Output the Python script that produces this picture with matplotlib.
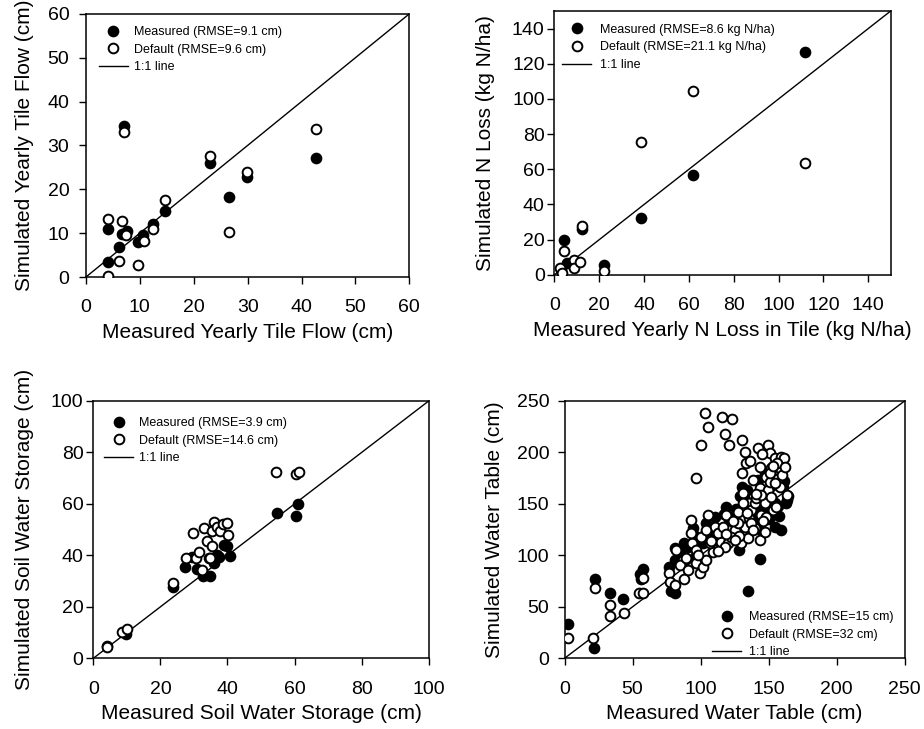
import matplotlib
matplotlib.use('Agg')
import matplotlib.pyplot as plt
from matplotlib.lines import Line2D

plt.rcParams['font.family'] = ['Liberation Sans', 'DejaVu Sans']

# --- tile flow (cm)
flow_meas_x = [4.1, 4.1, 6.1, 6.7, 7.1, 7.7, 9.7, 10.6, 12.4, 14.6, 23.0, 26.6, 29.9, 42.6]
flow_meas_y = [10.9, 3.4, 6.8, 9.8, 34.5, 10.6, 7.9, 9.6, 12.0, 15.0, 25.9, 18.2, 22.7, 27.2]
flow_def_x = [4.1, 4.1, 6.1, 6.7, 7.1, 7.5, 9.7, 10.8, 12.4, 14.6, 23.0, 26.6, 29.9, 42.6]
flow_def_y = [13.2, 0.3, 3.6, 12.7, 33.1, 9.6, 2.7, 8.3, 10.9, 17.6, 27.5, 10.3, 23.9, 33.7]

# --- N loss (kg N/ha)
n_meas_x = [4.3, 5.4, 3.0, 9.0, 12.1, 22.0, 38.4, 61.8, 111.6]
n_meas_y = [19.6, 7.0, 3.5, 7.5, 26.0, 5.8, 32.3, 56.8, 126.5]
n_def_x = [2.5, 3.2, 4.3, 8.6, 8.6, 11.5, 12.2, 22.0, 38.4, 61.8, 111.6]
n_def_y = [3.8, 0.8, 13.7, 8.5, 3.6, 7.3, 27.6, 2.0, 75.4, 104.4, 63.3]

# --- soil water storage (cm)
sw_meas_x = [4.2, 9.8, 23.9, 27.2, 31.0, 32.8, 34.8, 36.0, 37.5, 38.9, 39.8, 40.8, 29.5, 36.9,
             54.9, 60.4, 61.1]
sw_meas_y = [4.6, 9.3, 27.6, 35.4, 34.6, 32.1, 32.0, 36.9, 39.5, 44.0, 43.7, 39.8, 39.5, 40.1,
             56.3, 55.2, 60.1]
sw_def_x = [4.0, 8.6, 9.9, 23.9, 27.5, 29.8, 30.7, 31.4, 32.3, 32.9, 33.9, 34.4, 34.8, 35.4,
            35.9, 36.8, 37.7, 38.7, 39.8, 40.1, 35.3, 54.5, 60.4, 61.3]
sw_def_y = [4.5, 10.4, 11.5, 29.1, 38.9, 48.5, 38.8, 41.2, 34.2, 50.6, 45.6, 38.8, 38.9, 49.6,
            52.8, 51.0, 49.3, 52.2, 52.6, 48.1, 43.5, 72.3, 71.6, 72.3]

# --- water table (cm)
wt_meas_x = [2.5, 21.6, 22.1, 33.1, 42.9, 55.1, 57.6, 56.4, 76.7, 78.0, 81.4, 80.9, 87.0, 94.4,
             94.4, 98.0, 103.7, 107.8, 110.3, 118.9, 122.5, 128.2, 130.6, 134.3, 134.8, 139.7,
             143.9, 145.8, 154.4, 154.4, 160.5, 163.0, 163.7, 136.0, 125.0, 110.0, 115.0, 101.7,
             144.6, 142.0, 152.0, 158.0, 159.0, 88.0, 81.0, 95.6, 106.6, 132.0, 137.0, 147.0,
             155.6, 85.0, 91.0, 99.0, 104.0, 112.0, 117.0, 121.0, 126.0, 129.0, 140.0, 149.0,
             157.0, 161.0, 164.0, 150.0, 142.0]
wt_meas_y = [33.4, 9.7, 76.7, 63.8, 57.3, 81.6, 87.1, 76.7, 88.4, 65.7, 63.1, 106.9, 92.3, 126.3,
             120.8, 111.7, 123.1, 118.2, 137.6, 147.3, 137.6, 105.2, 166.8, 163.5, 65.7, 131.1,
             96.5, 144.1, 127.9, 150.6, 166.8, 150.6, 153.8, 124.7, 128.0, 128.0, 112.0, 111.7,
             124.7, 173.0, 167.0, 138.0, 125.0, 112.0, 95.0, 98.8, 121.4, 157.0, 150.6, 180.0,
             183.0, 102.0, 108.0, 116.0, 131.0, 125.0, 140.0, 134.0, 145.0, 158.0, 142.0, 160.0,
             148.0, 172.0, 158.0, 135.0, 155.0]
wt_def_x = [2.5, 21.1, 22.1, 33.6, 33.1, 43.4, 54.7, 57.6, 57.6, 76.7, 77.2, 80.9, 81.6, 87.0,
            87.5, 93.1, 93.9, 96.8, 96.8, 100.0, 99.3, 101.7, 103.4, 105.4, 103.7, 105.6, 109.1,
            110.3, 115.2, 115.9, 117.6, 118.4, 120.1, 120.1, 120.8, 123.0, 125.0, 127.5, 129.4,
            130.1, 130.6, 131.1, 132.4, 133.6, 135.3, 134.8, 135.3, 137.3, 139.7, 142.2, 143.4,
            143.4, 143.9, 144.6, 145.8, 147.1, 148.3, 149.5, 149.5, 150.7, 152.0, 153.2, 154.4,
            155.6, 156.9, 158.1, 159.3, 161.3, 163.7, 139.7, 138.5, 141.0, 147.1, 152.0, 150.7,
            148.3, 132.4, 122.5, 112.7, 106.6, 96.8, 93.0, 100.5, 104.0, 117.6, 116.4, 127.5,
            137.3, 131.1, 144.6, 154.4, 157.0, 159.0, 138.5, 84.6, 90.7, 108.0, 113.0, 119.0,
            124.0, 128.0, 134.0, 141.0, 146.0, 151.0, 156.0, 160.0, 136.0, 145.0, 153.0, 162.0,
            98.0, 89.0, 125.0]
wt_def_y = [19.4, 19.4, 68.0, 51.8, 41.1, 44.4, 63.1, 63.1, 77.7, 82.6, 74.5, 71.2, 105.2, 95.5,
            76.7, 134.4, 111.7, 92.3, 174.9, 207.3, 83.2, 89.1, 238.7, 225.1, 95.5, 139.2, 103.6,
            127.9, 113.3, 234.8, 217.9, 139.2, 124.7, 111.7, 207.3, 232.2, 124.7, 142.5, 111.7,
            212.1, 179.7, 160.3, 200.8, 189.4, 150.6, 116.6, 136.0, 144.1, 126.3, 204.0, 186.2,
            165.2, 115.0, 139.2, 153.8, 123.1, 176.5, 207.3, 163.5, 199.2, 184.6, 144.1, 194.3,
            147.3, 174.9, 166.8, 195.9, 194.3, 158.7, 150.6, 173.3, 155.4, 150.6, 157.0, 171.6,
            137.6, 128.0, 118.0, 121.4, 111.7, 105.2, 121.4, 118.2, 124.7, 108.5, 128.0, 131.0,
            131.0, 150.6, 158.7, 170.0, 183.0, 183.0, 124.7, 90.7, 85.8, 114.0, 104.0, 121.0,
            133.0, 119.0, 141.0, 160.0, 133.0, 180.0, 190.0, 178.0, 192.0, 198.0, 187.0, 186.0,
            100.0, 97.0, 115.0]

panels = [
    dict(rect=[0.093, 0.620, 0.350, 0.361], lim=60, ticks=range(0, 61, 10),
         mx=flow_meas_x, my=flow_meas_y, dx=flow_def_x, dy=flow_def_y,
         xlabel='Measured Yearly Tile Flow (cm)', ylabel='Simulated Yearly Tile Flow (cm)',
         labels=['Measured (RMSE=9.1 cm)', 'Default (RMSE=9.6 cm)'],
         leg=dict(loc='upper left', bbox_to_anchor=(0.040, 0.954), handletextpad=0.48),
         ypad=7, ylpad=10),
    dict(rect=[0.600, 0.623, 0.364, 0.362], lim=150, ticks=range(0, 141, 20),
         mx=n_meas_x, my=n_meas_y, dx=n_def_x, dy=n_def_y,
         xlabel='Measured Yearly N Loss in Tile (kg N/ha)', ylabel='Simulated N Loss (kg N/ha)',
         labels=['Measured (RMSE=8.6 kg N/ha)', 'Default (RMSE=21.1 kg N/ha)'],
         leg=dict(loc='upper left', bbox_to_anchor=(0.024, 0.951), handletextpad=0.72),
         ypad=2, ylpad=12),
    dict(rect=[0.101, 0.097, 0.363, 0.353], lim=100, ticks=range(0, 101, 20),
         mx=sw_meas_x, my=sw_meas_y, dx=sw_def_x, dy=sw_def_y,
         xlabel='Measured Soil Water Storage (cm)', ylabel='Simulated Soil Water Storage (cm)',
         labels=['Measured (RMSE=3.9 cm)', 'Default (RMSE=14.6 cm)'],
         leg=dict(loc='upper left', bbox_to_anchor=(0.033, 0.938), handletextpad=0.48),
         ypad=2, ylpad=12),
    dict(rect=[0.611, 0.097, 0.368, 0.353], lim=250, ticks=range(0, 251, 50),
         mx=wt_meas_x, my=wt_meas_y, dx=wt_def_x, dy=wt_def_y,
         xlabel='Measured Water Table (cm)', ylabel='Simulated Water Table (cm)',
         labels=['Measured (RMSE=15 cm)', 'Default (RMSE=32 cm)'],
         leg=dict(loc='lower right', bbox_to_anchor=(0.968, 0.0), handletextpad=0.64),
         ypad=6, ylpad=9),
]

fig = plt.figure(figsize=(9.24, 7.29), dpi=100)

for p in panels:
    ax = fig.add_axes(p['rect'])
    lim = p['lim']
    ax.plot([0, lim], [0, lim], color='black', lw=1.0, zorder=1)
    ax.plot(p['mx'], p['my'], 'o', ms=7, mfc='black', mec='black', mew=1.4, zorder=2)
    ax.plot(p['dx'], p['dy'], 'o', ms=7, mfc='white', mec='black', mew=1.4, zorder=3)
    ax.set_xlim(0, lim)
    ax.set_ylim(0, lim)
    ax.set_xticks(list(p['ticks']))
    ax.set_yticks(list(p['ticks']))
    ax.tick_params(direction='out', length=5, width=1.0, labelsize=14)
    ax.tick_params(axis='x', pad=11)
    ax.tick_params(axis='y', pad=p['ypad'])
    for s in ax.spines.values():
        s.set_linewidth(1.1)
    ax.set_xlabel(p['xlabel'], fontsize=15, labelpad=5)
    ax.set_ylabel(p['ylabel'], fontsize=15, labelpad=p['ylpad'])

    handles = [
        Line2D([], [], ls='none', marker='o', ms=7, mfc='black', mec='black', mew=1.4),
        Line2D([], [], ls='none', marker='o', ms=7, mfc='white', mec='black', mew=1.4),
        Line2D([], [], color='black', lw=1.0),
    ]
    ax.legend(handles, p['labels'] + ['1:1 line'], frameon=False, fontsize=9,
              borderaxespad=0, borderpad=0, handlelength=2.3, labelspacing=0.45,
              numpoints=1, **p['leg'])

fig.savefig('out.png', dpi=100)
